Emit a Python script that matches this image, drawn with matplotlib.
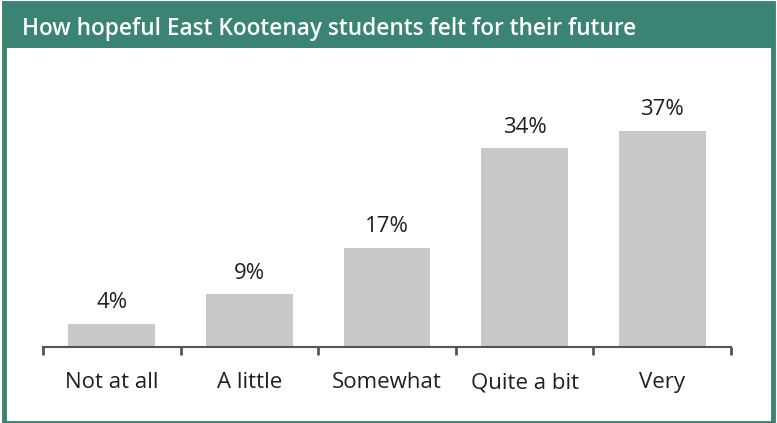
import matplotlib.pyplot as plt
from matplotlib.patches import Rectangle

categories = ["Not at all", "A little", "Somewhat", "Quite a bit", "Very"]
values = [4, 9, 17, 34, 37]
title = "How hopeful East Kootenay students felt for their future"

green = "#3b8474"
bar_color = "#c8c9cb"
text_color = "#231f20"

plt.rcParams['font.family'] = ['Open Sans', 'DejaVu Sans']

W, H = 777, 423
fig = plt.figure(figsize=(W / 100, H / 100), dpi=100)

# frame and header band
fig.patches.append(Rectangle((4 / W, 0), (W - 8) / W, 1 - 3 / H, transform=fig.transFigure,
                             facecolor="white", edgecolor=green, linewidth=3.5, zorder=-2))
fig.patches.append(Rectangle((4 / W, 1 - 48 / H), (W - 8) / W, 45 / H, transform=fig.transFigure,
                             facecolor=green, edgecolor="none", zorder=-1))
fig.text(22 / W, 1 - 29 / H, title, color="white", fontsize=16.3, fontweight="semibold",
         va="center", ha="left")

ax = fig.add_axes([43 / W, 76 / H, 688 / W, 234 / H])
ax.set_zorder(2)
ax.patch.set_visible(False)
x = range(len(categories))
ax.bar(x, values, width=0.63, color=bar_color)
for xi, v in zip(x, values):
    ax.annotate(f"{v}%", (xi, v), xytext=(0, 15), textcoords="offset points",
                ha="center", va="center", fontsize=16, color=text_color)

ax.set_xlim(-0.5, 4.5)
ax.set_ylim(0, 40)
ax.set_yticks([])
for s in ["top", "right", "left"]:
    ax.spines[s].set_visible(False)
ax.spines["bottom"].set_color("#555555")
ax.spines["bottom"].set_linewidth(1.5)

ax.set_xticks([i - 0.5 for i in range(len(categories) + 1)])
ax.set_xticklabels([])
ax.set_xticks(list(x), minor=True)
ax.set_xticklabels(categories, minor=True, fontsize=16, color=text_color)
ax.tick_params(axis="x", which="major", direction="out", length=6, width=2, color="#555555")
ax.tick_params(axis="x", which="minor", length=0, pad=18)

fig.savefig("out.png", dpi=100)
